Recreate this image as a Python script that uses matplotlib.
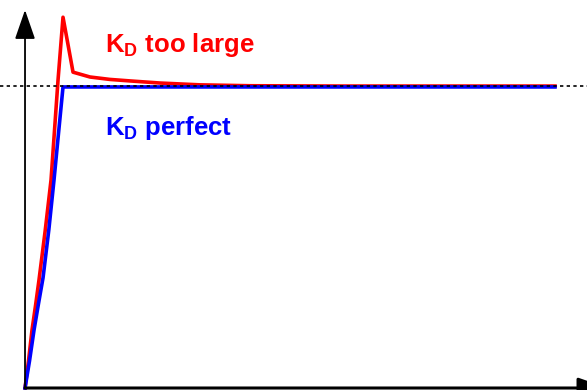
import matplotlib
matplotlib.use("Agg")
import matplotlib.pyplot as plt

plt.rcParams['font.family'] = ['Liberation Sans', 'DejaVu Sans']
plt.rcParams['mathtext.fontset'] = 'custom'
plt.rcParams['mathtext.rm'] = 'Liberation Sans'
plt.rcParams['mathtext.bf'] = 'Liberation Sans:bold'
plt.rcParams['mathtext.it'] = 'Liberation Sans:italic'

# Step response: time (s) and normalized output
t_large = [0.0, 0.066, 0.132, 0.2, 0.264, 0.38, 0.491, 0.623, 0.717, 0.906,
           1.226, 1.6, 1.98, 2.55, 3.30, 4.25, 6.0, 10.0]
y_large = [0.0, 0.09, 0.192, 0.275, 0.358, 0.52, 0.689, 1.020, 1.228, 1.046,
           1.030, 1.022, 1.017, 1.010, 1.004, 1.001, 1.0, 1.0]

t_perfect = [0.0, 0.085, 0.17, 0.255, 0.34, 0.45, 0.547, 0.63, 0.717, 10.0]
y_perfect = [0.0, 0.09, 0.192, 0.28, 0.365, 0.525, 0.689, 0.84, 0.997, 0.997]

setpoint = 1.0
label_large = r'$\mathbf{K_D}$ too large'
label_perfect = r'$\mathbf{K_D}$ perfect'

fig = plt.figure(figsize=(5.87, 3.90), dpi=100)
ax = fig.add_axes([0, 0, 1, 1])
ax.set_xlim(-0.472, 10.604)
ax.set_ylim(-0.0066, 1.285)
ax.axis('off')

ax.axhline(setpoint, color='black', lw=1.2, ls=(0, (2, 2)), zorder=5)
ax.plot(t_large, y_large, color='#ff0000', lw=2.6, zorder=3,
        solid_joinstyle='round')
ax.plot(t_perfect, y_perfect, color='#0000ff', lw=2.6, zorder=4,
        solid_joinstyle='round')

# axes arrows
ax.annotate('', xy=(0, 1.252), xytext=(0, 0), annotation_clip=False,
            arrowprops=dict(arrowstyle='-|>,head_length=1.3,head_width=0.45',
                            mutation_scale=14, color='black', lw=1.3,
                            shrinkA=0, shrinkB=0), zorder=6)
ax.annotate('', xy=(11.0, 0), xytext=(0, 0), annotation_clip=False,
            arrowprops=dict(arrowstyle='-|>,head_length=1.3,head_width=0.45',
                            mutation_scale=14, color='black', lw=2.2,
                            shrinkA=0, shrinkB=0), zorder=6)

ax.text(1.51, 1.113, label_large, color='#ff0000', fontsize=18.5,
        fontweight='bold', va='baseline', ha='left')
ax.text(1.51, 0.838, label_perfect, color='#0000ff', fontsize=18.5,
        fontweight='bold', va='baseline', ha='left')

fig.savefig('out.png', dpi=100)
